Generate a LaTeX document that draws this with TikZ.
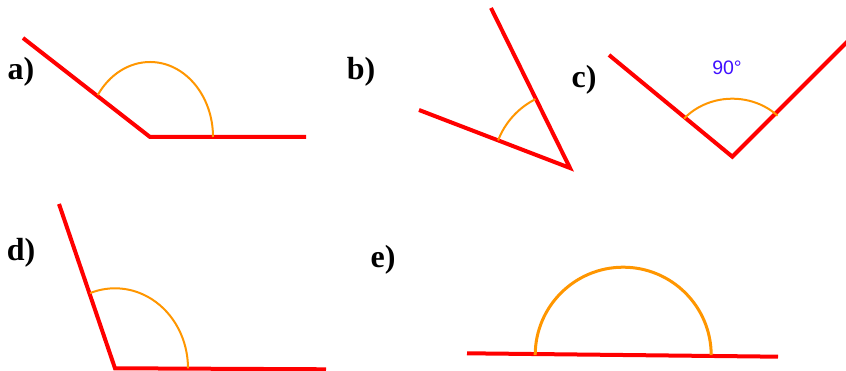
\documentclass[tikz,border=0pt]{standalone}
\usepackage{fontspec}
\usetikzlibrary{calc}
\setmainfont{Liberation Serif}
\newfontfamily\arialfont{Liberation Sans}
\definecolor{rayred}{RGB}{255,0,0}
\definecolor{arcorange}{RGB}{255,150,0}
\definecolor{degblue}{RGB}{64,16,255}
\tikzset{
  ray/.style={draw=rayred, line width=4pt, line join=miter},
  anglearc/.style={draw=arcorange, line width=2pt},
  biglabel/.style={inner sep=0pt, font=\fontsize{32}{36}\selectfont\bfseries},
  deglabel/.style={inner sep=0pt, text=degblue, font=\arialfont\fontsize{19.5}{22}\selectfont}
}
\begin{document}
\begin{tikzpicture}[x=1pt,y=1pt]
\useasboundingbox (0,0) rectangle (846,371);
\begin{scope}
\clip (0,0) rectangle (846,371);
% a)
\coordinate (Va) at (150,234);
\coordinate (Aa1) at (23,333);
\coordinate (Aa2) at (306,234);
\draw[ray] (Aa1) -- (Va) -- (Aa2);
\draw[anglearc] ([xshift=63pt]Va) arc[start angle=0, end angle=146, x radius=63pt, y radius=75pt];
\node[biglabel] (la) at (21,299) {a)};
% b)
\coordinate (Vb) at (570,203);
\coordinate (Bb1) at (419,261);
\coordinate (Bb2) at (491,363);
\draw[ray] (Bb1) -- (Vb) -- (Bb2);
\draw[anglearc] ($(Vb)+(116.6:77pt)$) arc[start angle=116.6, end angle=159, radius=77pt];
\node[biglabel] (lb) at (361,299) {b)};
% c)
\coordinate (Vc) at (732.3,214.3);
\coordinate (Cc1) at (609,316);
\coordinate (Cc2) at (850,332);
\draw[ray] (Cc1) -- (Vc) -- (Cc2);
\draw[anglearc] ($(Vc)+(45:64pt and 58pt)$) arc[start angle=45, end angle=139, x radius=64pt, y radius=58pt];
\node[biglabel] (lc) at (584,291) {c)};
\node[deglabel] (deg) at (727,303) {90°};
% d)
\coordinate (Vd) at (115,2.7);
\coordinate (Dd1) at (59,167);
\coordinate (Dd2) at (326,1.7);
\draw[ray] (Dd1) -- (Vd) -- (Dd2);
\draw[anglearc] ([xshift=73pt]Vd) arc[start angle=0, end angle=110, x radius=73pt, y radius=80pt];
\node[biglabel] (ld) at (21,118) {d)};
% e)
\coordinate (Ee1) at (467,17.7);
\coordinate (Ee2) at (778,14.3);
\coordinate (Ve) at (623.2,15.8);
\draw[ray] (Ee1) -- (Ee2);
\draw[anglearc, line width=3pt] ([xshift=88pt]Ve) arc[start angle=0, end angle=180, radius=88pt];
\node[biglabel] (le) at (383,111) {e)};
\end{scope}
\end{tikzpicture}
\end{document}
